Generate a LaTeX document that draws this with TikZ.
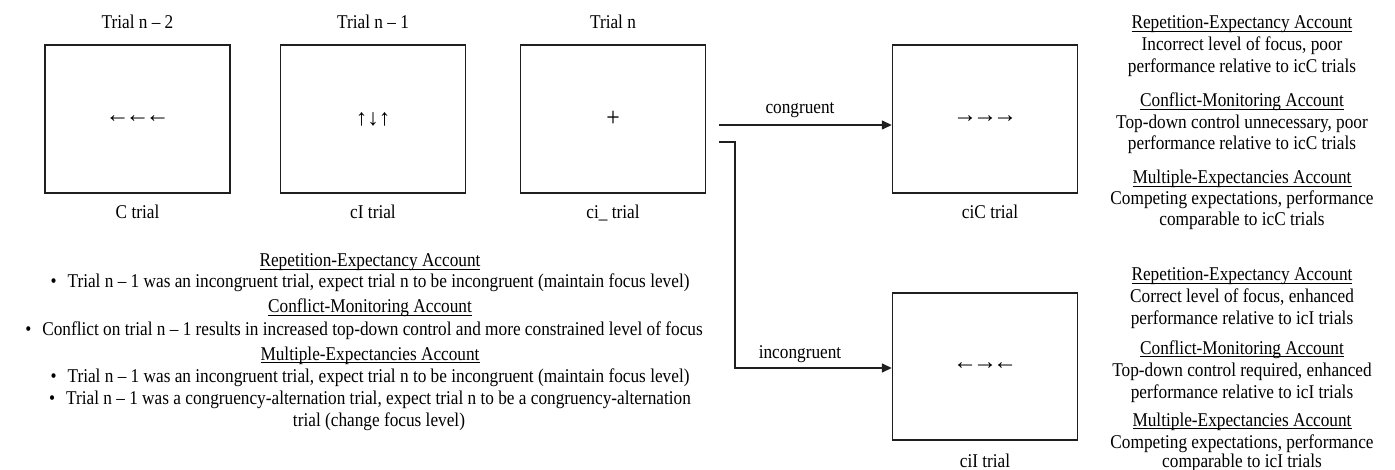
\documentclass[tikz,border=0pt]{standalone}
\usepackage{fontspec}
\setmainfont{Liberation Serif}[FakeStretch=0.885]
\newfontfamily\arrfont{Liberation Serif}
\usetikzlibrary{arrows.meta}
\newcommand\hdline[1]{\setbox0\hbox{#1}\rlap{\rule[-2.6pt]{\wd0}{0.9pt}}\box0}
\newcommand\ak{\kern-4pt}
\begin{document}
\begin{tikzpicture}[x=1pt,y=-1pt,
  ln/.style={font=\fontsize{19.5}{23}\selectfont, inner sep=0pt, anchor=base},
  trialbox/.style={draw=black!88, line width=1.4pt, minimum width=185pt, minimum height=148pt, inner sep=0pt},
  glyph/.style={font=\arrfont\fontsize{24}{24}\selectfont, inner sep=0pt},
  conn/.style={draw=black!88, line width=1.4pt},
  tip/.style={-{Triangle[length=10pt,width=9pt]}}]
\useasboundingbox (0,0) rectangle (1395,470);
% trial boxes
\node[trialbox] (b1) at (137.5,119) {};
\node[trialbox] (b2) at (373,119) {};
\node[trialbox] (b3) at (613,119) {};
\node[trialbox] (b4) at (985,119) {};
\node[trialbox, minimum height=147pt] (b5) at (985,366.5) {};
% stimuli
\node[glyph] (s1) at (b1.center) {←\ak←\ak←};
\node[glyph, font=\arrfont\fontsize{23}{23}\selectfont] (s2) at (b2.center) {↑↓↑};
\node[glyph, font=\fontsize{27}{27}\selectfont] (s3) at (b3.center) {+};
\node[glyph] (s4) at (b4.center) {→\ak→\ak→};
\node[glyph] (s5) at (b5.center) {←\ak→\ak←};
% titles
\node[ln] (t1) at (137.5,29) {Trial n – 2};
\node[ln] (t2) at (373,29) {Trial n – 1};
\node[ln] (t3) at (613,29) {Trial n};
% labels below
\node[ln] (l1) at (137.5,219) {C trial};
\node[ln] (l2) at (373,219) {cI trial};
\node[ln] (l3) at (613,219) {ci\_ trial};
\node[ln] (l4) at (990,219) {ciC trial};
\node[ln] (l5) at (985,467) {ciI trial};
% connectors
\coordinate (c1) at (719,125);
\coordinate (c2) at (719,142);
\coordinate (e2) at (735,142);
\coordinate (e3) at (735,368);
\draw[conn, tip] (c1) -- (c1 -| b4.west) coordinate (a1);
\draw[conn, tip] (c2) -- (e2) -- (e3) -- (e3 -| b5.west) coordinate (a2);
\node[ln] (cg) at (800,114) {congruent};
\node[ln] (ig) at (800,358) {incongruent};
% lower-left explanation
\node[ln] (ll1) at (370,267) {\hdline{Repetition-Expectancy Account}};
\node[ln] (ll2) at (370,288) {\textbullet\hspace{11pt}Trial n – 1 was an incongruent trial, expect trial n to be incongruent (maintain focus level)};
\node[ln] (ll3) at (370,313) {\hdline{Conflict-Monitoring Account}};
\node[ln] (ll4) at (364,336) {\textbullet\hspace{11pt}Conflict on trial n – 1 results in increased top-down control and more constrained level of focus};
\node[ln] (ll5) at (370,360) {\hdline{Multiple-Expectancies Account}};
\node[ln] (ll6) at (370,382) {\textbullet\hspace{11pt}Trial n – 1 was an incongruent trial, expect trial n to be incongruent (maintain focus level)};
\node[ln] (ll7) at (370,404) {\textbullet\hspace{11pt}Trial n – 1 was a congruency-alternation trial, expect trial n to be a congruency-alternation};
\node[ln] (ll8) at (379,426) {trial (change focus level)};
% right column, congruent
\node[ln] (r1) at (1242,29) {\hdline{Repetition-Expectancy Account}};
\node[ln] (r2) at (1242,51) {Incorrect level of focus, poor};
\node[ln] (r3) at (1242,73) {performance relative to icC trials};
\node[ln] (r4) at (1242,107) {\hdline{Conflict-Monitoring Account}};
\node[ln] (r5) at (1242,129) {Top-down control unnecessary, poor};
\node[ln] (r6) at (1242,150) {performance relative to icC trials};
\node[ln] (r7) at (1242,184) {\hdline{Multiple-Expectancies Account}};
\node[ln] (r8) at (1242,205) {Competing expectations, performance};
\node[ln] (r9) at (1242,226) {comparable to icC trials};
% right column, incongruent
\node[ln] (q1) at (1242,281) {\hdline{Repetition-Expectancy Account}};
\node[ln] (q2) at (1242,303) {Correct level of focus, enhanced};
\node[ln] (q3) at (1242,324) {performance relative to icI trials};
\node[ln] (q4) at (1242,354) {\hdline{Conflict-Monitoring Account}};
\node[ln] (q5) at (1242,376) {Top-down control required, enhanced};
\node[ln] (q6) at (1242,398) {performance relative to icI trials};
\node[ln] (q7) at (1242,426) {\hdline{Multiple-Expectancies Account}};
\node[ln] (q8) at (1242,448) {Competing expectations, performance};
\node[ln] (q9) at (1242,467) {comparable to icI trials};
\end{tikzpicture}
\end{document}
